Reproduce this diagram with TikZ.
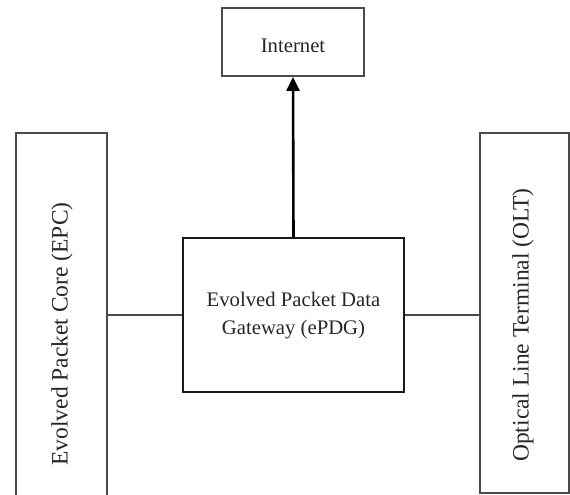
\documentclass[tikz,border=0pt]{standalone}
\usepackage{fontspec}
\setmainfont{Liberation Serif}
\usetikzlibrary{arrows.meta}
\definecolor{boxgray}{HTML}{4A4A4A}
\begin{document}
\begin{tikzpicture}[x=1pt,y=-1pt,
  box/.style={draw=boxgray,line width=1.8pt,rectangle,inner sep=0pt},
  hlabel/.style={font=\fontsize{20.7}{28}\selectfont,align=center,text=black!85},
  vlabel/.style={font=\fontsize{23.5}{28}\selectfont,rotate=90,text=black!85},
  link/.style={draw=boxgray,line width=1.5pt}]
\useasboundingbox (0,0) rectangle (570,495);
\node[box,minimum width=142pt,minimum height=68pt] (inet) at (293,42) {};
\node[hlabel] (inettext) at (293,46) {Internet};
\node[box,draw=black!90,minimum width=221pt,minimum height=154pt] (pdg) at (293.5,315) {};
\node[hlabel] (pdgtext) at (293.5,316) {Evolved Packet Data\\Gateway (ePDG)};
\node[box,minimum width=91pt,minimum height=377pt] (epc) at (61.5,321.5) {};
\node[vlabel] (epctext) at (62,334) {Evolved Packet Core (EPC)};
\node[box,minimum width=89pt,minimum height=360pt] (olt) at (524.5,313) {};
\node[vlabel] (olttext) at (523,325) {Optical Line Terminal (OLT)};
\draw[line width=2.6pt,-{Triangle[length=14pt,width=13pt]}] (pdg.north) -- (inet.south);
\draw[link] (epc.east |- pdg.west) -- (pdg.west);
\draw[link] (pdg.east) -- (olt.west |- pdg.east);
\end{tikzpicture}
\end{document}
